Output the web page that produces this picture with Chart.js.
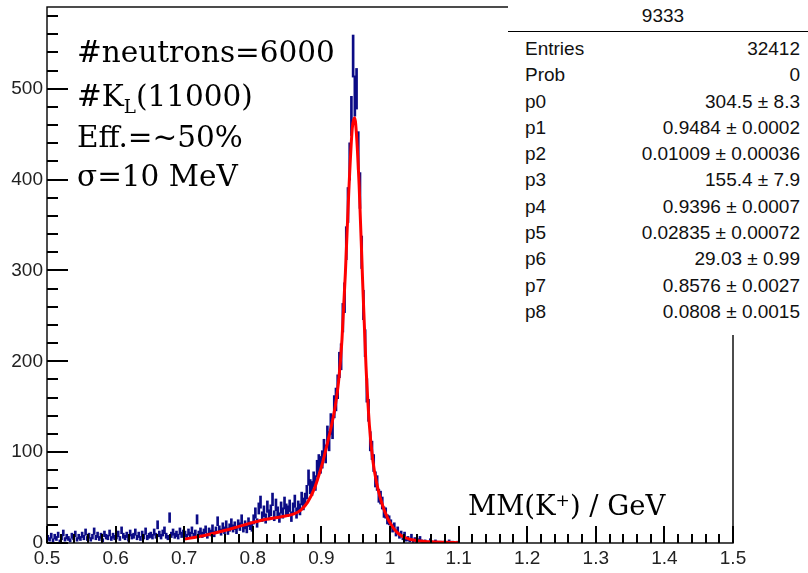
<!DOCTYPE html>
<html>
<head>
<meta charset="utf-8">
<script src="https://cdn.jsdelivr.net/npm/chart.js@4/dist/chart.umd.min.js"></script>
<style>
  html, body { margin:0; padding:0; background:#fff; overflow:hidden; }
  #wrap { position:relative; width:808px; height:573px; overflow:hidden; }
  #c { position:absolute; left:0; top:0; }
  .ann { position:absolute; left:77px; font-family:'DejaVu Serif', serif; font-size:29.5px; line-height:30px; color:#000; white-space:nowrap; }
  .ann sub { font-size:0.62em; vertical-align:-0.38em; line-height:0; }
  .ann sup { font-size:0.62em; vertical-align:0.55em; line-height:0; }
  #stats { position:absolute; left:508px; top:0; width:310px; height:335px; background:#fff;
           font-family:'Liberation Sans', Arial, sans-serif; font-size:19px; color:#111; }
  #stats .hdr { height:31px; line-height:31px; text-align:center; border-bottom:1.5px solid #000; }
  #stats .rows { padding-top:4px; }
  #stats .row { display:flex; justify-content:space-between; height:26.3px; line-height:26.3px; padding:0 18px 0 17px; }
</style>
</head>
<body>
<div id="wrap">
  <canvas id="c" width="808" height="573"></canvas>
  <div class="ann" style="top:37px">#neutrons=6000</div>
  <div class="ann" style="top:81px">#K<sub>L</sub>(11000)</div>
  <div class="ann" style="top:122px">Eff.=~50%</div>
  <div class="ann" style="top:161px">σ=10 MeV</div>
  <div class="ann" style="left:468px; top:490px; font-size:27.5px;">MM(K<sup>+</sup>) / GeV</div>
  <div id="stats"><div class="hdr" id="statsTitle"></div><div class="rows" id="statsRows"></div></div>
</div>
<script>
// ---------------- data ----------------
const histName = '9333';
const binLow = 0.5;          // lower edge of first bin (GeV)
const binWidth = 0.0025;     // bin width (GeV)
const counts = [
  6,4,8,3,7,5,9,2,6,11,4,7,5,3,8,6,10,4,7,5,
  9,6,12,5,8,4,7,13,6,9,5,8,3,10,7,6,11,5,8,6,
  7,10,5,14,8,6,9,4,11,7,8,12,6,9,5,10,7,13,6,8,
  9,7,12,8,20,10,7,11,14,8,6,28,9,12,8,10,7,13,9,11,
  10,7,12,9,14,8,11,26,10,13,9,12,15,8,13,11,16,10,14,24,
  15,12,18,14,20,13,17,22,16,19,14,21,18,26,16,20,15,23,19,17,
  26,33,22,38,45,29,35,27,40,31,36,48,30,42,34,28,39,33,44,37,
  35,41,29,38,46,33,40,37,49,43,
  48,56,72,62,60,70,66,82,88,86,
  92,104,98,118,112,131,126,150,158,172,
  196,205,248,270,330,372,420,470,536,492,
  500,432,388,320,262,220,168,146,112,102,
  88,70,66,52,50,44,34,33,26,25,
  21,16,18,11,14,8,10,6,9,4,
  5,3,7,2,4,1,3,5,2,1,
  2,1,0,3,1,0,2,1,0,1,
  0,1,0,0,2,0,1,0,0,1
];
const fitX = [0.70,0.72,0.74,0.76,0.78,0.80,0.82,0.84,0.86,0.87,0.88,0.89,0.90,0.905,0.91,0.915,0.92,0.925,0.93,0.935,0.94,0.945,0.9484,0.95,0.955,0.96,0.965,0.97,0.975,0.98,0.985,0.99,0.995,1.00,1.005,1.01,1.015,1.02,1.03,1.04,1.06,1.08,1.10];
const fitY = [4.3,6.8,10.1,14.0,18.3,22.5,26.1,28.7,32.0,36.3,45.0,60.4,83.9,98.2,113.8,130.4,149.7,177.3,223.8,297.9,388.0,456.5,468.0,461.1,394.0,290.1,194.7,129.2,90.8,67.8,51.9,39.6,29.9,22.2,16.4,12.0,8.9,6.6,3.9,2.6,1.3,0.7,0.3];
const xTickValues = [0.5,0.6,0.7,0.8,0.9,1.0,1.1,1.2,1.3,1.4,1.5];
const xTickLabels = ['0.5','0.6','0.7','0.8','0.9','1','1.1','1.2','1.3','1.4','1.5'];
const yTickValues = [0,100,200,300,400,500];
const yTickLabels = ['0','100','200','300','400','500'];
const statLabels = ['Entries','Prob','p0','p1','p2','p3','p4','p5','p6','p7','p8'];
const statValues = ['32412','0','304.5 ± 8.3','0.9484 ± 0.0002','0.01009 ± 0.00036','155.4 ± 7.9','0.9396 ± 0.0007','0.02835 ± 0.00072','29.03 ± 0.99','0.8576 ± 0.0027','0.0808 ± 0.0015'];

// ---------------- stats box text ----------------
document.getElementById('statsTitle').textContent = histName;
const rowsEl = document.getElementById('statsRows');
statLabels.forEach((l, i) => {
  const r = document.createElement('div'); r.className = 'row';
  const a = document.createElement('span'); a.textContent = l;
  const b = document.createElement('span'); b.textContent = statValues[i];
  r.appendChild(a); r.appendChild(b); rowsEl.appendChild(r);
});

// ---------------- chart ----------------
const histData = counts.map((c, i) => ({ x: binLow + binWidth * (i + 0.5), y: [c - Math.sqrt(c), c + Math.sqrt(c)] }));
const fitData = fitX.map((x, i) => ({ x: x, y: fitY[i] }));

// ROOT-style frame with inward major/minor ticks, placed by the chart's scales
const rootFrame = {
  id: 'rootFrame',
  afterDraw(chart) {
    const ctx = chart.ctx, a = chart.chartArea;
    const xs = chart.scales.x, ys = chart.scales.y;
    ctx.save();
    ctx.fillStyle = '#000000';
    const yStep = (yTickValues[1] - yTickValues[0]) / 5;
    for (let j = 0; j < 200; j++) {
      const v = yTickValues[0] + j * yStep;
      if (v > ys.max + 1e-9) break;
      const p = Math.round(ys.getPixelForValue(v));
      const len = (j % 5 === 0) ? 21 : 11;
      ctx.fillRect(Math.round(a.left), p - 1, len, 2);
    }
    const xStep = (xTickValues[1] - xTickValues[0]) / 5;
    for (let j = 0; j < 200; j++) {
      const v = xTickValues[0] + j * xStep;
      if (v > xs.max + 1e-9) break;
      const p = Math.round(xs.getPixelForValue(v));
      const len = (j % 5 === 0) ? 17 : 9;
      ctx.fillRect(p - 1, Math.round(a.bottom) - len, 2, len);
    }
    ctx.strokeStyle = '#000';
    ctx.lineWidth = 1.4;
    ctx.strokeRect(a.left, a.top, a.right - a.left, a.bottom - a.top);
    ctx.restore();
  }
};

new Chart(document.getElementById('c'), {
  type: 'bar',
  data: {
    datasets: [
      { type: 'line', data: fitData, borderColor: '#ff0000', borderWidth: 3, pointRadius: 0,
        cubicInterpolationMode: 'monotone', fill: false, order: 0 },
      { type: 'bar', data: histData, backgroundColor: '#0b0b86', borderWidth: 0,
        barThickness: 2, grouped: false, order: 1 }
    ]
  },
  options: {
    responsive: false,
    animation: false,
    devicePixelRatio: 1,
    layout: { padding: { top: 7, right: 75, left: 0, bottom: 0 } },
    plugins: { legend: { display: false }, tooltip: { enabled: false } },
    scales: {
      x: {
        type: 'linear', min: 0.5, max: 1.5, offset: false,
        grid: { display: false, drawTicks: false }, border: { display: false },
        afterBuildTicks: s => { s.ticks = xTickValues.map(v => ({ value: v })); },
        afterFit: s => { s.height = 30; s.paddingLeft = 0; s.paddingRight = 0; },
        ticks: { autoSkip: false, maxRotation: 0, padding: 4, color: '#222',
                 font: { family: 'Liberation Sans', size: 19 },
                 callback: (v, i) => xTickLabels[i] }
      },
      y: {
        type: 'linear', min: 0, max: 590,
        grid: { display: false, drawTicks: false }, border: { display: false },
        afterBuildTicks: s => { s.ticks = yTickValues.map(v => ({ value: v })); },
        afterFit: s => { s.width = 47; s.paddingTop = 0; s.paddingBottom = 0; },
        ticks: { autoSkip: false, padding: 4, color: '#222',
                 font: { family: 'Liberation Sans', size: 19 },
                 callback: (v, i) => yTickLabels[i] }
      }
    }
  },
  plugins: [rootFrame]
});
</script>
</body>
</html>
